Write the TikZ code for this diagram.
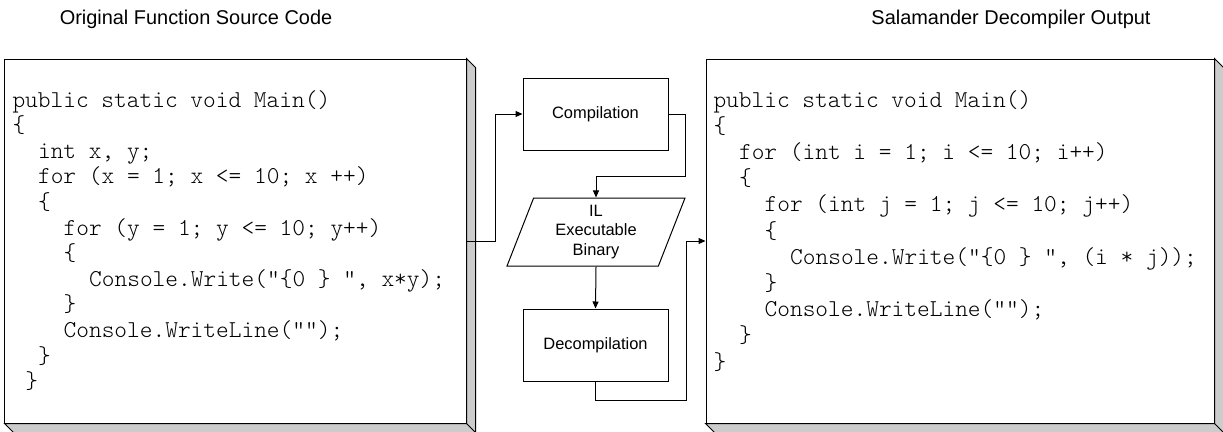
\documentclass[tikz,border=0pt]{standalone}
\usepackage{fontspec}
\setmainfont{Liberation Sans}
\setmonofont{lmmonolt10-regular}[Extension=.otf]
\usetikzlibrary{shapes.geometric,arrows.meta}

\begin{document}
\begin{tikzpicture}[x=1bp, y=-1bp, line width=1bp, >={Triangle[length=7bp,width=6bp]},
    stepbox/.style={draw, rectangle, minimum width=145bp, minimum height=72bp, inner sep=0pt, font=\fontsize{16.5}{20}\selectfont},
    databox/.style={draw, trapezium, trapezium left angle=64, trapezium right angle=116, trapezium stretches body,
        minimum width=178bp, minimum height=68bp, inner sep=0pt, align=center, font=\fontsize{16.5}{20}\selectfont},
    panel/.style={draw, fill=white, rectangle, inner sep=0pt, minimum height=364bp},
    codeline/.style={anchor=base west, inner sep=0pt, font=\ttfamily\fontsize{24.3}{25.6}\selectfont},
    title/.style={font=\fontsize{20}{24}\selectfont}]
    \useasboundingbox (0,0) rectangle (1223,431);

    % titles
    \node[title] (srctitle) at (196,19) {Original Function Source Code};
    \node[title] (outtitle) at (1011,19) {Salamander Decompiler Output};

    % 3d panels
    \node[panel, minimum width=461bp] (srcpanel) at (235.5,241) {};
    \node[panel, minimum width=508bp] (outpanel) at (960,241) {};
    \foreach \p in {srcpanel, outpanel} {
        \filldraw[fill=gray!40] (\p.north east) -- ++(9,9) -- ([shift={(9,9)}]\p.south east)
            -- ([shift={(9,9)}]\p.south west) -- (\p.south west) -- (\p.south east) -- cycle;
        \draw (\p.south east) -- ++(9,9);
    }

    % source code
    \foreach \n/\txt [count=\i from 0] in {0/{public static void Main()}, 0/\{, 2/{int x, y;},
        2/{for (x = 1; x <= 10; x ++)}, 2/\{, 4/{for (y = 1; y <= 10; y++)}, 4/\{,
        6/{Console.Write("\{0 \} ", x*y);}, 4/\}, 4/{Console.WriteLine("");}, 2/\}, 1/\}}
        \node[codeline] (src\i) at (12+12.78*\n, 107+25.6*\i) {\txt};

    % decompiled code
    \foreach \n/\txt [count=\i from 0] in {0/{public static void Main()}, 0/\{,
        2/{for (int i = 1; i <= 10; i++)}, 2/\{, 4/{for (int j = 1; j <= 10; j++)}, 4/\{,
        6/{Console.Write("\{0 \} ", (i * j));}, 4/\}, 4/{Console.WriteLine("");}, 2/\}, 0/\}}
        \node[codeline] (out\i) at (713+12.78*\n, 107+26.2*\i) {\txt};

    % process steps
    \node[stepbox] (compile) at (595.5,114) {Compilation};
    \node[databox] (ilbin) at (596,232) {IL\\Executable\\Binary};
    \node[stepbox] (decompile) at (595.5,345) {Decompilation};

    \draw[->] (srcpanel.east) -- ++(29,0) |- (compile.west);
    \draw[->] (compile.east) -- ++(17,0) -- ++(0,62) -| (ilbin.north);
    \draw[->] (ilbin.south) -- (decompile.north);
    \draw[->] (decompile.south) -- ++(0,19) -- ++(91,0) |- (outpanel.west);
\end{tikzpicture}
\end{document}
